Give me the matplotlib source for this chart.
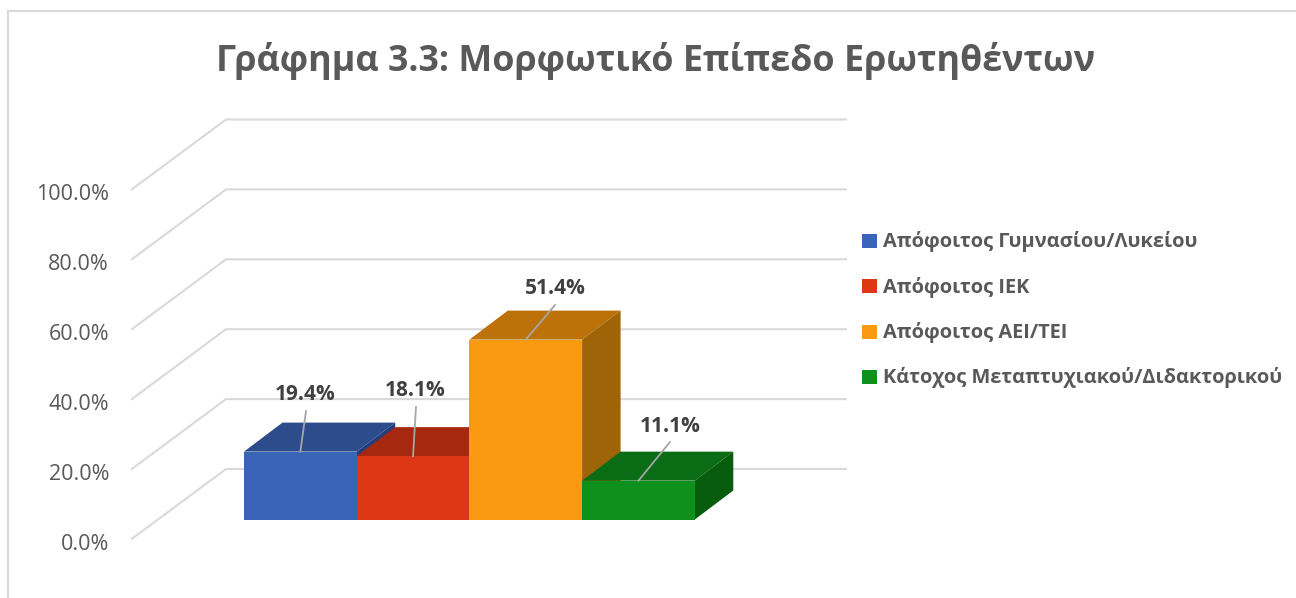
import matplotlib.pyplot as plt
from matplotlib.patches import Polygon, Rectangle

plt.rcParams['font.family'] = ['Open Sans', 'Noto Sans', 'DejaVu Sans']

title = 'Γράφημα 3.3: Μορφωτικό Επίπεδο Ερωτηθέντων'
categories = ['Απόφοιτος Γυμνασίου/Λυκείου', 'Απόφοιτος ΙΕΚ', 'Απόφοιτος ΑΕΙ/ΤΕΙ', 'Κάτοχος Μεταπτυχιακού/Διδακτορικού']
values = [19.4, 18.1, 51.4, 11.1]
labels = ['19.4%', '18.1%', '51.4%', '11.1%']
ticks = [0, 20, 40, 60, 80, 100]
tick_labels = ['0.0%', '20.0%', '40.0%', '60.0%', '80.0%', '100.0%']
front = ['#3a64b8', '#dd3716', '#fa9a10', '#0e911c']
top = ['#2c4c8c', '#a5280f', '#bc7208', '#0a6c14']
side = ['#243f7c', '#92240c', '#a06408', '#085c0e']
label_pos = [(305, 394), (415, 390), (555, 288), (670, 426)]
leader_top = [(306, 411), (416, 407), (555, 305), (670, 442)]

W, H = 1296, 598
fig = plt.figure(figsize=(W / 100, H / 100), dpi=100)
ax = fig.add_axes([0, 0, 1, 1])
ax.set_xlim(0, W)
ax.set_ylim(H, 0)
ax.axis('off')

# pixel scale of the fake 3d box
y0 = 539.5
per_pct = (539.5 - 190) / 100
dx, dy = 95, -70.5
x_left = 131

ax.add_patch(Rectangle((8, 11), W - 8 + 5, H, fc='white', ec='#d9d9d9', lw=1.5))
ax.text(656, 61, title, ha='center', va='center', fontsize=25.8, fontweight='bold', color='#595959')

for t, s in zip(ticks, tick_labels):
    y = y0 - t * per_pct
    ax.plot([x_left, x_left + dx, 847], [y, y + dy, y + dy], color='#d9d9d9', lw=1.5, zorder=1,
            solid_capstyle='butt')
    ax.text(109, y + 4.5, s, ha='right', va='center', fontsize=15.5, color='#595959')

# bars
bw = 112.7
bx = 244
by = 519.5
bdx, bdy = 38.5, -29
for i, v in enumerate(values):
    x = bx + i * bw
    h = v * 3.5
    yt = by - h
    ax.add_patch(Polygon([(x, yt), (x + bdx, yt + bdy), (x + bw + bdx, yt + bdy), (x + bw, yt)], fc=top[i], ec='none', zorder=2 + i))
    ax.add_patch(Polygon([(x + bw, yt), (x + bw + bdx, yt + bdy), (x + bw + bdx, by + bdy), (x + bw, by)], fc=side[i], ec='none', zorder=2 + i))
    ax.add_patch(Rectangle((x, yt), bw, h, fc=front[i], ec='none', zorder=2 + i))
    ax.plot([x + bw / 2, leader_top[i][0]], [yt, leader_top[i][1]], color='#a6a6a6', lw=1.3, zorder=10)
    lx, ly = label_pos[i]
    ax.text(lx, ly, labels[i], ha='center', va='center', fontsize=15, fontweight='bold', color='#404040', zorder=11)

# legend
for i, c in enumerate(categories):
    y = 241 + i * 45.3
    ax.add_patch(Rectangle((862, y - 7), 15, 14, fc=front[i], ec='none'))
    ax.text(883, y + 0.7, c, ha='left', va='center', fontsize=14.4, fontweight='bold', color='#595959')

fig.savefig('out.png', dpi=100)
